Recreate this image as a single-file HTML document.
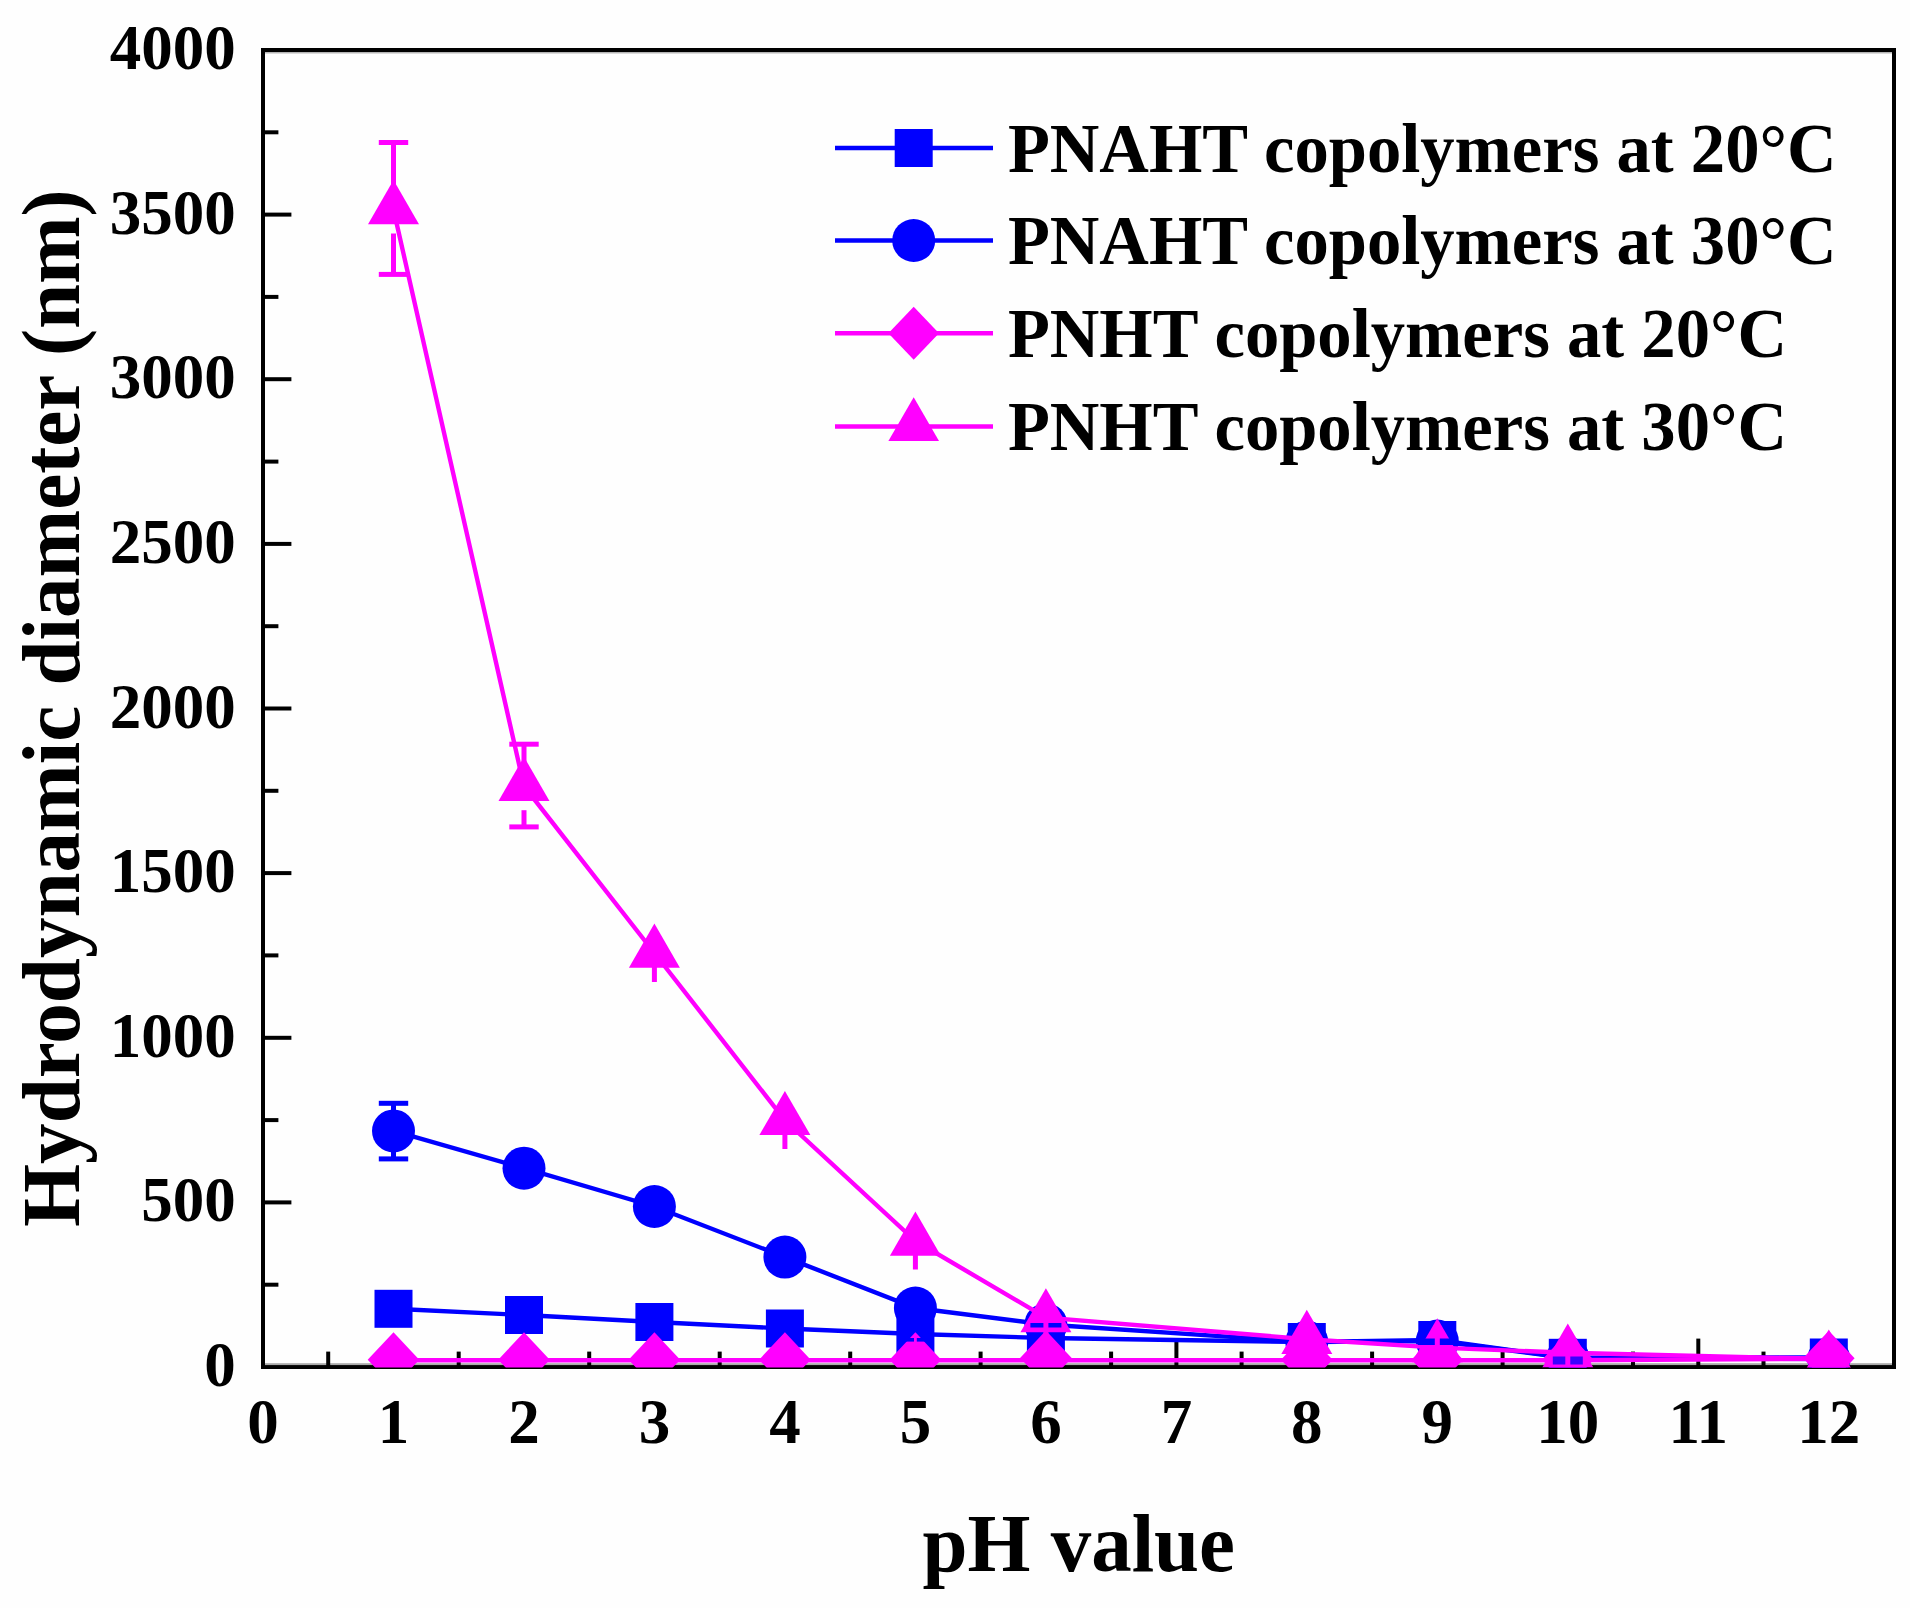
<!DOCTYPE html>
<html lang="en"><head><meta charset="utf-8"><title>Hydrodynamic diameter vs pH value</title>
<style>html,body{margin:0;padding:0;background:#fefefe}body{width:1910px;height:1608px;overflow:hidden}svg{display:block}text{font-family:"Liberation Serif","DejaVu Serif",serif;font-weight:bold;fill:#000}</style></head><body>
<svg width="1910" height="1608" viewBox="0 0 1910 1608">
<rect width="1910" height="1608" fill="#fefefe"/>
<defs><clipPath id="plot"><rect x="263" y="50" width="1631" height="1317.5"/></clipPath></defs>
<rect x="263" y="50" width="1631" height="1317" fill="none" stroke="#000" stroke-width="4"/>
<rect x="265" y="1363.2" width="1627" height="1.9" fill="#a9a9a9"/>
<rect x="265" y="52" width="1627" height="1.5" fill="#b5b5b5"/>
<g stroke="#000" stroke-width="4" fill="none">
<line x1="328.2" y1="1367.0" x2="328.2" y2="1351.6"/>
<line x1="393.5" y1="1367.0" x2="393.5" y2="1338.6"/>
<line x1="458.7" y1="1367.0" x2="458.7" y2="1351.6"/>
<line x1="524.0" y1="1367.0" x2="524.0" y2="1338.6"/>
<line x1="589.2" y1="1367.0" x2="589.2" y2="1351.6"/>
<line x1="654.4" y1="1367.0" x2="654.4" y2="1338.6"/>
<line x1="719.7" y1="1367.0" x2="719.7" y2="1351.6"/>
<line x1="784.9" y1="1367.0" x2="784.9" y2="1338.6"/>
<line x1="850.2" y1="1367.0" x2="850.2" y2="1351.6"/>
<line x1="915.4" y1="1367.0" x2="915.4" y2="1338.6"/>
<line x1="980.6" y1="1367.0" x2="980.6" y2="1351.6"/>
<line x1="1045.9" y1="1367.0" x2="1045.9" y2="1338.6"/>
<line x1="1111.1" y1="1367.0" x2="1111.1" y2="1351.6"/>
<line x1="1176.4" y1="1367.0" x2="1176.4" y2="1338.6"/>
<line x1="1241.6" y1="1367.0" x2="1241.6" y2="1351.6"/>
<line x1="1306.8" y1="1367.0" x2="1306.8" y2="1338.6"/>
<line x1="1372.1" y1="1367.0" x2="1372.1" y2="1351.6"/>
<line x1="1437.3" y1="1367.0" x2="1437.3" y2="1338.6"/>
<line x1="1502.6" y1="1367.0" x2="1502.6" y2="1351.6"/>
<line x1="1567.8" y1="1367.0" x2="1567.8" y2="1338.6"/>
<line x1="1633.0" y1="1367.0" x2="1633.0" y2="1351.6"/>
<line x1="1698.3" y1="1367.0" x2="1698.3" y2="1338.6"/>
<line x1="1763.5" y1="1367.0" x2="1763.5" y2="1351.6"/>
<line x1="1828.8" y1="1367.0" x2="1828.8" y2="1338.6"/>
<line x1="263.0" y1="1284.7" x2="278.4" y2="1284.7"/>
<line x1="263.0" y1="1202.4" x2="291.4" y2="1202.4"/>
<line x1="263.0" y1="1120.1" x2="278.4" y2="1120.1"/>
<line x1="263.0" y1="1037.8" x2="291.4" y2="1037.8"/>
<line x1="263.0" y1="955.4" x2="278.4" y2="955.4"/>
<line x1="263.0" y1="873.1" x2="291.4" y2="873.1"/>
<line x1="263.0" y1="790.8" x2="278.4" y2="790.8"/>
<line x1="263.0" y1="708.5" x2="291.4" y2="708.5"/>
<line x1="263.0" y1="626.2" x2="278.4" y2="626.2"/>
<line x1="263.0" y1="543.9" x2="291.4" y2="543.9"/>
<line x1="263.0" y1="461.6" x2="278.4" y2="461.6"/>
<line x1="263.0" y1="379.2" x2="291.4" y2="379.2"/>
<line x1="263.0" y1="296.9" x2="278.4" y2="296.9"/>
<line x1="263.0" y1="214.6" x2="291.4" y2="214.6"/>
<line x1="263.0" y1="132.3" x2="278.4" y2="132.3"/>
</g>
<g clip-path="url(#plot)">
<polyline fill="none" stroke="#0000ff" stroke-width="4.4" points="393.5,1308.8 524.0,1315.0 654.4,1322.0 784.9,1328.5 915.4,1334.0 1045.9,1338.0 1306.8,1342.0 1437.3,1340.0 1567.8,1357.8 1828.8,1357.5"/>
<rect x="374.5" y="1289.8" width="38" height="38" fill="#0000ff"/>
<rect x="505.0" y="1296.0" width="38" height="38" fill="#0000ff"/>
<rect x="635.4" y="1303.0" width="38" height="38" fill="#0000ff"/>
<rect x="765.9" y="1309.5" width="38" height="38" fill="#0000ff"/>
<rect x="896.4" y="1315.0" width="38" height="38" fill="#0000ff"/>
<rect x="1026.9" y="1319.0" width="38" height="38" fill="#0000ff"/>
<rect x="1287.8" y="1323.0" width="38" height="38" fill="#0000ff"/>
<rect x="1418.3" y="1321.0" width="38" height="38" fill="#0000ff"/>
<rect x="1548.8" y="1338.8" width="38" height="38" fill="#0000ff"/>
<rect x="1809.8" y="1338.5" width="38" height="38" fill="#0000ff"/>
<polyline fill="none" stroke="#0000ff" stroke-width="4.4" points="393.5,1130.9 524.0,1168.2 654.4,1206.5 784.9,1257.1 915.4,1308.0 1045.9,1324.5 1306.8,1342.0 1437.3,1341.0 1567.8,1358.0 1828.8,1359.0"/>
<circle cx="393.5" cy="1130.9" r="21.5" fill="#0000ff"/>
<circle cx="524.0" cy="1168.2" r="21.5" fill="#0000ff"/>
<circle cx="654.4" cy="1206.5" r="21.5" fill="#0000ff"/>
<circle cx="784.9" cy="1257.1" r="21.5" fill="#0000ff"/>
<circle cx="915.4" cy="1308.0" r="21.5" fill="#0000ff"/>
<circle cx="1045.9" cy="1324.5" r="21.5" fill="#0000ff"/>
<circle cx="1306.8" cy="1342.0" r="21.5" fill="#0000ff"/>
<circle cx="1437.3" cy="1341.0" r="21.5" fill="#0000ff"/>
<circle cx="1567.8" cy="1358.0" r="21.5" fill="#0000ff"/>
<circle cx="1828.8" cy="1359.0" r="21.5" fill="#0000ff"/>
<polyline fill="none" stroke="#ff00ff" stroke-width="4.4" points="393.5,1360.2 524.0,1360.2 654.4,1360.2 784.9,1360.2 915.4,1360.2 1045.9,1360.2 1306.8,1360.2 1437.3,1360.2 1567.8,1360.2 1828.8,1358.7"/>
<polygon fill="#ff00ff" points="393.5,1332.3 419.3,1359.7 393.5,1387.1 367.7,1359.7"/>
<polygon fill="#ff00ff" points="524.0,1332.3 549.8,1359.7 524.0,1387.1 498.2,1359.7"/>
<polygon fill="#ff00ff" points="654.4,1332.3 680.2,1359.7 654.4,1387.1 628.6,1359.7"/>
<polygon fill="#ff00ff" points="784.9,1332.3 810.7,1359.7 784.9,1387.1 759.1,1359.7"/>
<polygon fill="#ff00ff" points="915.4,1332.3 941.2,1359.7 915.4,1387.1 889.6,1359.7"/>
<polygon fill="#ff00ff" points="1045.9,1330.6 1071.7,1358.0 1045.9,1385.4 1020.1,1358.0"/>
<polygon fill="#ff00ff" points="1306.8,1332.3 1332.6,1359.7 1306.8,1387.1 1281.0,1359.7"/>
<polygon fill="#ff00ff" points="1437.3,1332.3 1463.1,1359.7 1437.3,1387.1 1411.5,1359.7"/>
<polygon fill="#ff00ff" points="1567.8,1332.3 1593.6,1359.7 1567.8,1387.1 1542.0,1359.7"/>
<polygon fill="#ff00ff" points="1828.8,1330.8 1854.6,1358.2 1828.8,1385.6 1803.0,1358.2"/>
<polyline fill="none" stroke="#ff00ff" stroke-width="4.4" points="393.5,209.5 524.0,786.2 654.4,953.0 784.9,1120.3 915.4,1241.0 1045.9,1317.6 1306.8,1339.2 1437.3,1347.6 1567.8,1352.8 1828.8,1359.0"/>
<polygon fill="#ff00ff" points="393.5,180.1 419.0,224.2 368.0,224.2"/>
<polygon fill="#ff00ff" points="524.0,756.8 549.5,800.9 498.5,800.9"/>
<polygon fill="#ff00ff" points="654.4,923.6 679.9,967.7 628.9,967.7"/>
<polygon fill="#ff00ff" points="784.9,1090.9 810.4,1135.0 759.4,1135.0"/>
<polygon fill="#ff00ff" points="915.4,1211.6 940.9,1255.7 889.9,1255.7"/>
<polygon fill="#ff00ff" points="1045.9,1288.2 1071.4,1332.3 1020.4,1332.3"/>
<polygon fill="#ff00ff" points="1306.8,1309.8 1332.3,1353.9 1281.3,1353.9"/>
<polygon fill="#ff00ff" points="1437.3,1318.2 1462.8,1362.3 1411.8,1362.3"/>
<polygon fill="#ff00ff" points="1567.8,1323.4 1593.3,1367.5 1542.3,1367.5"/>
<polygon fill="#ff00ff" points="1828.8,1329.6 1854.3,1373.7 1803.3,1373.7"/>
<g stroke="#0000ff" stroke-width="5" fill="none"><line x1="393.5" y1="1103.3" x2="393.5" y2="1111.0"/><line x1="393.5" y1="1151.0" x2="393.5" y2="1158.9"/><line x1="378.8" y1="1103.3" x2="408.2" y2="1103.3"/><line x1="378.8" y1="1158.9" x2="408.2" y2="1158.9"/></g>
<g stroke="#ff00ff" stroke-width="5" fill="none"><line x1="393.5" y1="142.4" x2="393.5" y2="185.5"/><line x1="393.5" y1="233.5" x2="393.5" y2="274.4"/><line x1="378.8" y1="142.4" x2="408.2" y2="142.4"/><line x1="378.8" y1="274.4" x2="408.2" y2="274.4"/></g>
<g stroke="#ff00ff" stroke-width="5" fill="none"><line x1="524.0" y1="744.2" x2="524.0" y2="762.2"/><line x1="524.0" y1="810.2" x2="524.0" y2="826.9"/><line x1="509.3" y1="744.2" x2="538.7" y2="744.2"/><line x1="509.3" y1="826.9" x2="538.7" y2="826.9"/></g>
<line x1="654.4" y1="966.0" x2="654.4" y2="982.0" stroke="#ff00ff" stroke-width="5"/>
<line x1="784.9" y1="1134.0" x2="784.9" y2="1149.0" stroke="#ff00ff" stroke-width="5"/>
<line x1="915.4" y1="1254.0" x2="915.4" y2="1269.5" stroke="#ff00ff" stroke-width="5"/>
<rect x="900.4" y="1338" width="30" height="3.6" fill="#0000ff"/>
<rect x="914.0" y="1337" width="2.8" height="5" fill="#ff00ff"/>
<rect x="1030.4" y="1323" width="31" height="4.5" fill="#0000ff"/>
<rect x="1043.4" y="1321" width="5" height="26" fill="#ff00ff"/>
<rect x="1417.8" y="1338.5" width="39" height="6.5" fill="#0000ff"/>
<rect x="1434.8" y="1336" width="5" height="12" fill="#ff00ff"/>
<rect x="1552.8" y="1356.5" width="30" height="8" fill="#3a00ff"/>
<rect x="1565.3" y="1354" width="5" height="13" fill="#ff00ff"/>
</g>
<g font-size="63">
<text x="263.0" y="1443" text-anchor="middle">0</text>
<text x="393.5" y="1443" text-anchor="middle">1</text>
<text x="524.0" y="1443" text-anchor="middle">2</text>
<text x="654.4" y="1443" text-anchor="middle">3</text>
<text x="784.9" y="1443" text-anchor="middle">4</text>
<text x="915.4" y="1443" text-anchor="middle">5</text>
<text x="1045.9" y="1443" text-anchor="middle">6</text>
<text x="1176.4" y="1443" text-anchor="middle">7</text>
<text x="1306.8" y="1443" text-anchor="middle">8</text>
<text x="1437.3" y="1443" text-anchor="middle">9</text>
<text x="1567.8" y="1443" text-anchor="middle">10</text>
<text x="1698.3" y="1443" text-anchor="middle">11</text>
<text x="1828.8" y="1443" text-anchor="middle">12</text>
<text x="235.7" y="1386.0" text-anchor="end">0</text>
<text x="235.7" y="1221.4" text-anchor="end">500</text>
<text x="235.7" y="1056.8" text-anchor="end">1000</text>
<text x="235.7" y="892.1" text-anchor="end">1500</text>
<text x="235.7" y="727.5" text-anchor="end">2000</text>
<text x="235.7" y="562.9" text-anchor="end">2500</text>
<text x="235.7" y="398.2" text-anchor="end">3000</text>
<text x="235.7" y="233.6" text-anchor="end">3500</text>
<text x="235.7" y="69.0" text-anchor="end">4000</text>
</g>
<text transform="translate(1078.8,1570.5) scale(0.975,1)" font-size="83" text-anchor="middle">pH value</text>
<text transform="translate(78.7,708.2) rotate(-90) scale(0.977,1)" font-size="83" text-anchor="middle">Hydrodynamic diameter (nm)</text>
<line x1="835" y1="148.0" x2="993" y2="148.0" stroke="#0000ff" stroke-width="4.5"/>
<line x1="835" y1="240.5" x2="993" y2="240.5" stroke="#0000ff" stroke-width="4.5"/>
<line x1="835" y1="333.3" x2="993" y2="333.3" stroke="#ff00ff" stroke-width="4.5"/>
<line x1="835" y1="426.5" x2="993" y2="426.5" stroke="#ff00ff" stroke-width="4.5"/>
<rect x="894.7" y="129.0" width="38" height="38" fill="#0000ff"/>
<circle cx="913.7" cy="240.5" r="21.5" fill="#0000ff"/>
<polygon fill="#ff00ff" points="913.7,306.8 939.0,333.3 913.7,359.8 888.4,333.3"/>
<polygon fill="#ff00ff" points="913.7,397.3 939.0,441.1 888.4,441.1"/>
<g font-size="70.5">
<text transform="translate(1007.9,172.0) scale(0.9735,1)">PNAHT copolymers at 20°C</text>
<text transform="translate(1007.9,264.2) scale(0.9735,1)">PNAHT copolymers at 30°C</text>
<text transform="translate(1007.9,357.3) scale(0.9735,1)">PNHT copolymers at 20°C</text>
<text transform="translate(1007.9,449.7) scale(0.9735,1)">PNHT copolymers at 30°C</text>
</g>
</svg></body></html>
